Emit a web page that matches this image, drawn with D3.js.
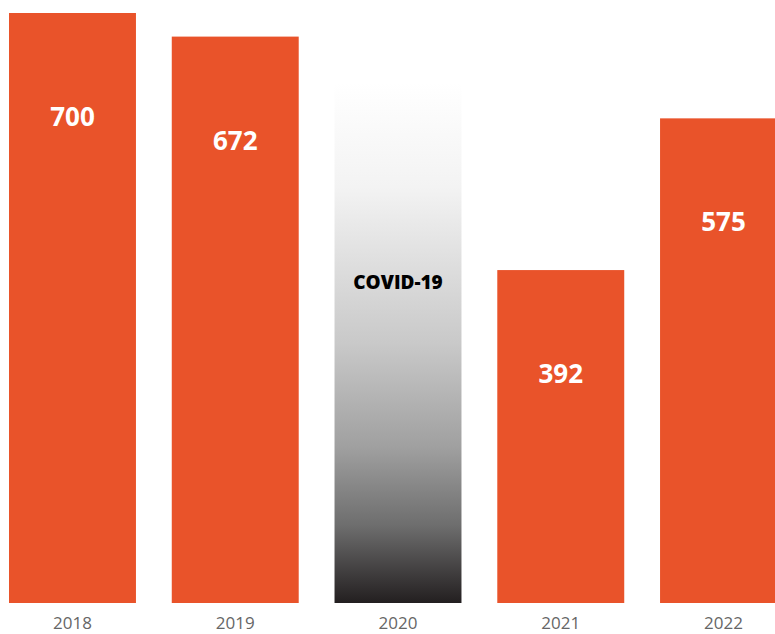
<!DOCTYPE html>
<html><head><meta charset="utf-8">
<script src="https://cdn.jsdelivr.net/npm/d3@7"></script>
<style>html,body{margin:0;padding:0;background:#fff;overflow:hidden}</style>
</head><body>
<svg id="c" width="775" height="634"></svg>
<script>
const years = ["2018","2019","2020","2021","2022"];
const values = [700, 672, 617, 395, 575];
const valueLabels = ["700","672","COVID-19","392","575"];
const highlight = [false, false, true, false, false];

const svg = d3.select("#c");
const x = d3.scaleBand().domain(years).range([9, 787]).paddingInner(0.22).paddingOuter(0);
const y = d3.scaleLinear().domain([0, 700]).range([603, 13]);

const defs = svg.append("defs");
const g = defs.append("linearGradient").attr("id","covid").attr("x1",0).attr("y1",0).attr("x2",0).attr("y2",1);
[[0,"#ffffff"],[0.2,"#f3f3f3"],[0.5,"#c9c9c9"],[0.7,"#a0a0a0"],[0.85,"#6e6e6e"],[1,"#231f20"]]
  .forEach(([o,c]) => g.append("stop").attr("offset",o).attr("stop-color",c));

const data = years.map((yr,i)=>({yr, v: values[i], lab: valueLabels[i], hl: highlight[i]}));

svg.selectAll("rect.bar").data(data).join("rect")
  .attr("class","bar")
  .attr("x", d=>x(d.yr)).attr("width", x.bandwidth())
  .attr("y", d=>y(d.v)).attr("height", d=>y(0)-y(d.v))
  .attr("fill", d=>d.hl ? "url(#covid)" : "#e9532a");

svg.selectAll("text.val").data(data).join("text")
  .attr("class","val")
  .attr("x", d=>x(d.yr)+x.bandwidth()/2)
  .attr("y", d=> d.hl ? 289 : y(d.v)+113)
  .attr("text-anchor","middle")
  .attr("font-family","'Open Sans', sans-serif")
  .attr("font-weight", d=> d.hl ? 800 : "bold")
  .attr("font-size", d=> d.hl ? 19 : 26)
  .attr("fill", d=> d.hl ? "#000" : "#fff")
  .text(d=>d.lab);

const xAxis = d3.axisBottom(x).tickSize(0).tickPadding(0);
const ax = svg.append("g").attr("transform","translate(0,603)").call(xAxis);
ax.select(".domain").remove();
ax.selectAll("text")
  .attr("dy",null).attr("y",26)
  .attr("font-family","'Open Sans', sans-serif")
  .attr("font-size",17)
  .attr("fill","#666");
</script>
</body></html>
